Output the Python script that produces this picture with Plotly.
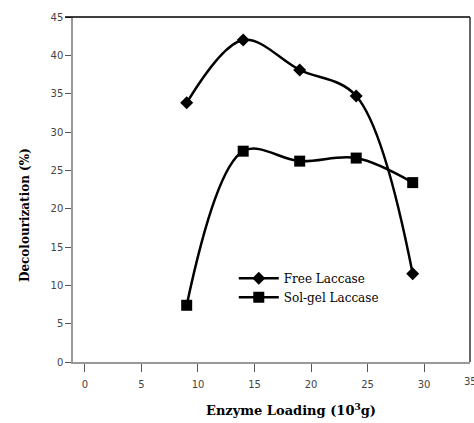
import plotly.graph_objects as go

loading = [9, 14, 19, 24, 29]
free_laccase = [33.8, 42.0, 38.1, 34.7, 11.5]
solgel_laccase = [7.4, 27.5, 26.2, 26.6, 23.4]
x_ticks = [0, 5, 10, 15, 20, 25, 30]
y_ticks = [0, 5, 10, 15, 20, 25, 30, 35, 40, 45]

fig = go.Figure()
fig.add_trace(go.Scatter(
    x=loading, y=free_laccase, name="Free Laccase", mode="lines+markers",
    line=dict(color="black", width=2.5, shape="spline", smoothing=1.0),
    marker=dict(symbol="diamond", size=10, color="black")))
fig.add_trace(go.Scatter(
    x=loading, y=solgel_laccase, name="Sol-gel Laccase", mode="lines+markers",
    line=dict(color="black", width=2.5, shape="spline", smoothing=1.0),
    marker=dict(symbol="square", size=11, color="black")))

axis_font = dict(family="DejaVu Sans", size=10, color="#444")
fig.update_layout(
    width=474, height=423,
    margin=dict(l=73, r=4, t=17, b=61),
    plot_bgcolor="white", paper_bgcolor="white",
    showlegend=True,
    legend=dict(x=0.405, y=0.285, xanchor="left", yanchor="top",
                font=dict(family="DejaVu Serif", size=12, color="black"),
                bgcolor="rgba(0,0,0,0)", itemwidth=40, tracegroupgap=0),
    xaxis=dict(range=[-1.06, 34.07], tickvals=x_ticks, ticks="outside", ticklen=8,
               tickcolor="#555", tickfont=axis_font, showgrid=False, zeroline=False,
               showline=True, linecolor="#999", linewidth=1.5, ticklabelstandoff=4),
    yaxis=dict(range=[0, 45], tickvals=y_ticks, ticks="outside", ticklen=6,
               tickcolor="#555", tickfont=axis_font, showgrid=False, zeroline=False,
               showline=True, linecolor="#999", linewidth=1.5),
)
# frame lines (top and right)
fig.add_shape(type="line", xref="paper", yref="paper", x0=-0.02, x1=1, y0=1, y1=1,
              line=dict(color="black", width=1.5))
fig.add_shape(type="line", xref="paper", yref="paper", x0=1, x1=1, y0=0, y1=1,
              line=dict(color="#333", width=1.5))
fig.add_annotation(text="<b>Decolourization (%)</b>", xref="paper", yref="paper",
                   x=-0.121, y=0.426, xanchor="center", yanchor="middle", textangle=-90,
                   showarrow=False, font=dict(family="DejaVu Serif", size=12, color="black"))
fig.add_annotation(text="<b>Enzyme Loading (10<sup>3</sup>g)</b>", xref="paper", yref="paper",
                   x=0.55, y=-0.108, xanchor="center", yanchor="top", showarrow=False,
                   font=dict(family="DejaVu Serif", size=13, color="black"))
fig.add_annotation(text="35", xref="paper", yref="paper", x=1, y=-0.036,
                   xanchor="center", yanchor="top", showarrow=False, font=axis_font)

fig.write_html("out.html", config={"displayModeBar": False},
               post_script="document.body.style.margin='0';document.body.style.overflow='hidden';")
